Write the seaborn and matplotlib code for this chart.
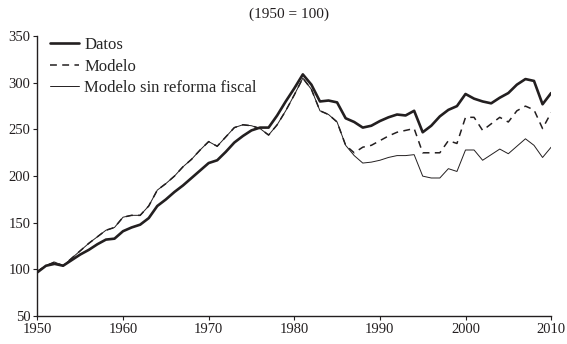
import numpy as np
import pandas as pd
import seaborn as sns
import matplotlib.pyplot as plt

years = list(range(1950, 2011))

datos = [97, 104, 106, 104, 110, 116, 121, 127, 132, 133,
         141, 145, 148, 155, 168, 175, 183, 190, 198, 206,
         214, 217, 226, 236, 243, 249, 252, 252, 265, 280,
         294, 309, 298, 280, 281, 279, 262, 258, 252, 254,
         259, 263, 266, 265, 270, 247, 254, 264, 271, 275,
         288, 283, 280, 278, 284, 289, 298, 304, 302, 277,
         289]

modelo = [98, 104, 108, 104, 112, 120, 128, 135, 142, 145,
          156, 158, 158, 168, 185, 192, 200, 210, 218, 228,
          237, 232, 242, 252, 255, 254, 251, 244, 255, 270,
          287, 305, 293, 270, 266, 258, 233, 225, 231, 233,
          238, 243, 247, 249, 251, 225, 225, 225, 238, 235,
          263, 263, 249, 256, 263, 258, 270, 275, 271, 251,
          268]

sin_reforma = modelo[:36] + [
    233, 222, 214, 215,
    217, 220, 222, 222, 223, 200, 198, 198, 208, 205,
    228, 228, 217, 223, 229, 224, 232, 240, 233, 220,
    231]

sns.set_theme(style="ticks")
plt.rcParams['font.family'] = ['Liberation Serif', 'DejaVu Serif']

fig = plt.figure(figsize=(5.67, 3.44), dpi=100)
ax = fig.add_axes([0.066, 0.081, 0.906, 0.814])

ink = "#231f20"
sns.lineplot(x=years, y=datos, ax=ax, color=ink, lw=1.9, label="Datos")
sns.lineplot(x=years, y=modelo, ax=ax, color=ink, lw=1.1, label="Modelo",
             linestyle=(0, (4.5, 3.5)))
sns.lineplot(x=years, y=sin_reforma, ax=ax, color=ink, lw=0.7,
             label="Modelo sin reforma fiscal")

ax.set_xlim(1950, 2010)
ax.set_ylim(50, 350)
ax.set_xticks(range(1950, 2011, 10))
ax.set_yticks(range(50, 351, 50))
ax.tick_params(labelsize=10.5, length=3, width=0.8, color=ink, labelcolor=ink, pad=2)
sns.despine(ax=ax)
for s in ["left", "bottom"]:
    ax.spines[s].set_color(ink)
    ax.spines[s].set_linewidth(1.0)

ax.legend(loc="upper left", frameon=False, fontsize=12, handlelength=1.7,
          handletextpad=0.35, labelspacing=0.32, borderaxespad=0.0,
          bbox_to_anchor=(0.012, 1.02))
fig.text(0.51, 0.96, "(1950 = 100)", ha="center", va="center", fontsize=11, color=ink)

fig.savefig("out.png", dpi=100)
